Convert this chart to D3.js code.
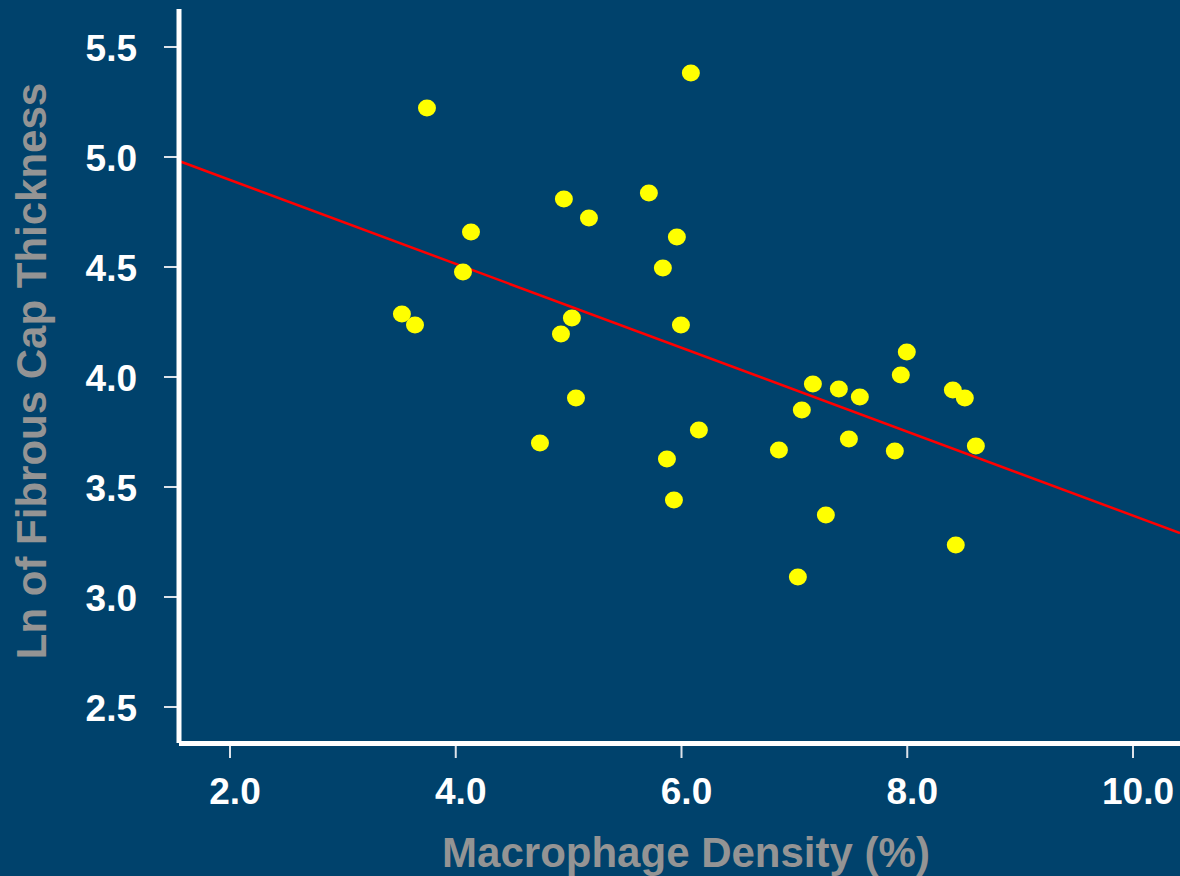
<!DOCTYPE html>
<html>
<head>
<meta charset="utf-8">
<script src="https://cdn.jsdelivr.net/npm/d3@7"></script>
<style>
  html, body { margin: 0; padding: 0; background: #00426c; }
  svg { display: block; }
  text { font-family: "Liberation Sans", Arial, sans-serif; font-weight: bold; }
</style>
</head>
<body>
<svg id="chart" width="1180" height="876"></svg>
<script>
// data
var macrophage = [3.745, 6.083, 3.523, 3.639, 4.135, 4.064, 4.746, 4.932, 4.958, 5.029,
                  5.065, 5.180, 5.711, 5.835, 5.959, 5.995, 5.871, 5.933, 6.154, 6.863,
                  7.031, 7.066, 7.164, 7.279, 7.394, 7.483, 7.580, 7.890, 7.943, 7.996,
                  8.404, 8.510, 8.430, 8.608];
var lnCapThickness = [5.223, 5.382, 4.286, 4.236, 4.659, 4.477, 3.700, 4.195, 4.809, 4.268,
                      3.905, 4.723, 4.836, 4.495, 4.636, 4.236, 3.627, 3.441, 3.759, 3.668,
                      3.091, 3.850, 3.968, 3.373, 3.945, 3.718, 3.909, 3.664, 4.009, 4.114,
                      3.941, 3.905, 3.236, 3.686];
var xTicks = [2, 4, 6, 8, 10];
var yTicks = [2.5, 3.0, 3.5, 4.0, 4.5, 5.0, 5.5];
// fitted line: y = intercept + slope * x
var fitIntercept = 5.277;
var fitSlope = -0.1907;

var svg = d3.select('#chart');

var x = d3.scaleLinear().domain([2, 10]).range([230, 1133]);
var y = d3.scaleLinear().domain([2.5, 5.5]).range([707, 47]);

var xMin = x.invert(179), xMax = x.invert(1180);

// regression line
svg.append('line')
    .attr('x1', x(xMin))
    .attr('y1', y(fitIntercept + fitSlope * xMin))
    .attr('x2', x(xMax))
    .attr('y2', y(fitIntercept + fitSlope * xMax))
    .attr('stroke', '#ff0000')
    .attr('stroke-width', 2.5);

// points
svg.append('g')
    .selectAll('ellipse')
    .data(d3.range(macrophage.length))
    .enter()
    .append('ellipse')
    .attr('cx', i => x(macrophage[i]))
    .attr('cy', i => y(lnCapThickness[i]))
    .attr('rx', 9)
    .attr('ry', 8.5)
    .attr('fill', '#ffff00');

// y ticks
var yAxisG = svg.append('g');
yAxisG.selectAll('line')
    .data(yTicks)
    .enter()
    .append('line')
    .attr('x1', 164)
    .attr('x2', 177)
    .attr('y1', d => y(d))
    .attr('y2', d => y(d))
    .attr('stroke', '#dde3ea')
    .attr('stroke-width', 2);
yAxisG.selectAll('text')
    .data(yTicks)
    .enter()
    .append('text')
    .attr('x', 137)
    .attr('y', d => y(d) + 14)
    .attr('text-anchor', 'end')
    .attr('fill', '#ffffff')
    .attr('font-size', 37)
    .text(d => d.toFixed(1));

// x ticks
var xAxisG = svg.append('g');
xAxisG.selectAll('line')
    .data(xTicks)
    .enter()
    .append('line')
    .attr('x1', d => x(d))
    .attr('x2', d => x(d))
    .attr('y1', 745)
    .attr('y2', 758)
    .attr('stroke', '#dde3ea')
    .attr('stroke-width', 2);
xAxisG.selectAll('text')
    .data(xTicks)
    .enter()
    .append('text')
    .attr('x', d => x(d) + 5)
    .attr('y', 804)
    .attr('text-anchor', 'middle')
    .attr('fill', '#ffffff')
    .attr('font-size', 37)
    .text(d => d.toFixed(1));

// axis lines
svg.append('line')
    .attr('x1', 179).attr('x2', 1180)
    .attr('y1', 743.5).attr('y2', 743.5)
    .attr('stroke', '#ffffff')
    .attr('stroke-width', 5);
svg.append('line')
    .attr('x1', 179).attr('x2', 179)
    .attr('y1', 9).attr('y2', 743)
    .attr('stroke', '#ffffff')
    .attr('stroke-width', 5);

// axis titles
svg.append('text')
    .attr('x', 686)
    .attr('y', 867)
    .attr('text-anchor', 'middle')
    .attr('fill', '#949494')
    .attr('font-size', 42)
    .text('Macrophage Density (%)');

svg.append('text')
    .attr('transform', 'translate(46,371) rotate(-90)')
    .attr('text-anchor', 'middle')
    .attr('fill', '#949494')
    .attr('font-size', 42)
    .text('Ln of Fibrous Cap Thickness');
</script>
</body>
</html>
